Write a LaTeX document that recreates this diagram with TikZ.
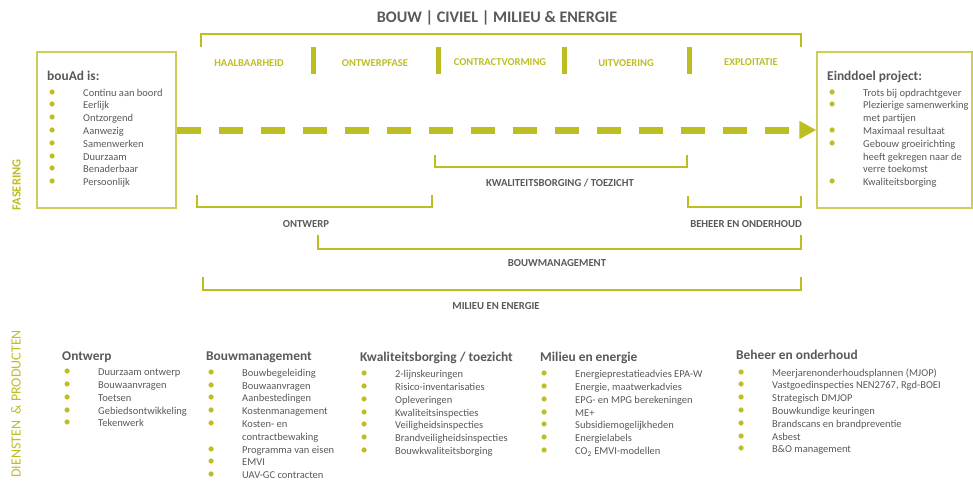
\documentclass[tikz,border=0pt]{standalone}
\usepackage{fontspec}
\setmainfont{Carlito}
\usetikzlibrary{arrows.meta,positioning}
\definecolor{bouGreen}{RGB}{189,190,34}
\definecolor{bouGrey}{RGB}{89,89,89}
\newcommand{\itm}[1]{\makebox[34.5pt][l]{\textcolor{bouGreen}{\Large\textbullet}}#1}
\newcommand{\nxt}[1]{\hspace*{34.5pt}#1}

\begin{document}
\begin{tikzpicture}[x=1pt,y=-1pt]
\tikzstyle{bracket} = [draw=bouGreen, line width=2pt]
\tikzstyle{phasebar} = [draw=bouGreen, line width=5pt]
\tikzstyle{phase} = [text=bouGreen, font=\fontsize{10.5}{12}\selectfont\bfseries]
\tikzstyle{tag} = [text=bouGrey, font=\fontsize{10.7}{12}\selectfont\bfseries]
\tikzstyle{box} = [draw=bouGreen!75, line width=1.3pt, minimum height=156pt]
\tikzstyle{head} = [text=bouGrey, font=\fontsize{13.4}{15}\selectfont\bfseries, anchor=base west, inner sep=0pt]
\tikzstyle{items} = [text=bouGrey, font=\fontsize{10.5}{12.8}\selectfont, align=left, anchor=north west, inner sep=0pt]
\tikzstyle{side} = [text=bouGreen, font=\fontsize{12.5}{14}\selectfont\bfseries, rotate=90]
\useasboundingbox (0,0) rectangle (973,480);

% fasering
\node[text=bouGrey, font=\fontsize{16.1}{18}\selectfont\bfseries] (title) at (497,18) {BOUW | CIVIEL | MILIEU \& ENERGIE};
\draw[bracket] (201,47) -- (201,34) -- (801,34) -- (801,47);
\foreach \x in {313,438,564,689}
  \draw[phasebar] (\x,47) -- (\x,74);
\node[phase] (haalb) at (249,63) {HAALBAARHEID};
\node[phase] (ontwf) at (375,63) {ONTWERPFASE};
\node[phase] (contr) at (500,62) {CONTRACTVORMING};
\node[phase] (uitv) at (626,63) {UITVOERING};
\node[phase] (expl) at (751,62) {EXPLOITATIE};

\node[box, minimum width=139pt] (bouad) at (106.5,130) {};
\node[box, minimum width=155pt] (einddoel) at (894.5,130) {};
\node[head] (bouadhead) at (47,80) {bouAd is:};
\node[items] (bouaditems) at (48.5,88.7) {\itm{Continu aan boord}\\ \itm{Eerlijk}\\ \itm{Ontzorgend}\\
  \itm{Aanwezig}\\ \itm{Samenwerken}\\ \itm{Duurzaam}\\ \itm{Benaderbaar}\\ \itm{Persoonlijk}};
\node[head] (einddoelhead) at (827,80) {Einddoel project:};
\node[items] (einddoelitems) at (828.5,88.7) {\itm{Trots bij opdrachtgever}\\ \itm{Plezierige samenwerking}\\
  \nxt{met partijen}\\ \itm{Maximaal resultaat}\\ \itm{Gebouw groeirichting}\\ \nxt{heeft gekregen naar de}\\
  \nxt{verre toekomst}\\ \itm{Kwaliteitsborging}};
\draw[bouGreen, line width=7pt, dash pattern=on 24pt off 18pt,
  -{Triangle[length=17pt,width=17pt]}] (bouad.east) -- (einddoel.west);

\draw[bracket] (435,155) -- (435,167) -- (687,167) -- (687,155);
\node[tag] (kwal) at (560,183) {KWALITEITSBORGING / TOEZICHT};
\draw[bracket] (197,195) -- (197,207) -- (432,207) -- (432,195);
\node[tag] (ontw) at (306,224) {ONTWERP};
\draw[bracket] (688,196) -- (688,207) -- (801,207) -- (801,196);
\node[tag] (beheer) at (746,224) {BEHEER EN ONDERHOUD};
\draw[bracket] (318,235) -- (318,249) -- (801,249) -- (801,235);
\node[tag] (bouwm) at (557,263) {BOUWMANAGEMENT};
\draw[bracket] (203,277) -- (203,290) -- (801,290) -- (801,277);
\node[tag] (milieu) at (496,306) {MILIEU EN ENERGIE};
\node[side] (fasering) at (16.5,185) {FASERING};

% diensten en producten
\node[side, font=\fontsize{14}{16}\selectfont] (diensten) at (16,404) {DIENSTEN\ \ \& PRODUCTEN};
\node[head] (ontwhead) at (62,360) {Ontwerp};
\node[items] (ontwitems) at (63.5,368.7) {\itm{Duurzaam ontwerp}\\ \itm{Bouwaanvragen}\\ \itm{Toetsen}\\
  \itm{Gebiedsontwikkeling}\\ \itm{Tekenwerk}};
\node[head] (bouwhead) at (206,360) {Bouwmanagement};
\node[items] (bouwitems) at (207.5,368.7) {\itm{Bouwbegeleiding}\\ \itm{Bouwaanvragen}\\ \itm{Aanbestedingen}\\
  \itm{Kostenmanagement}\\ \itm{Kosten- en}\\ \nxt{contractbewaking}\\ \itm{Programma van eisen}\\
  \itm{EMVI}\\ \itm{UAV-GC contracten}};
\node[head] (kwalhead) at (360,361.5) {Kwaliteitsborging / toezicht};
\node[items] (kwalitems) at (360.5,370.2) {\itm{2-lijnskeuringen}\\ \itm{Risico-inventarisaties}\\
  \itm{Opleveringen}\\ \itm{Kwaliteitsinspecties}\\ \itm{Veiligheidsinspecties}\\
  \itm{Brandveiligheidsinspecties}\\ \itm{Bouwkwaliteitsborging}};
\node[head] (milieuhead) at (540,361.5) {Milieu en energie};
\node[items] (milieuitems) at (540.5,370.2) {\itm{Energieprestatieadvies EPA-W}\\
  \itm{Energie, maatwerkadvies}\\ \itm{EPG- en MPG berekeningen}\\ \itm{ME+}\\
  \itm{Subsidiemogelijkheden}\\ \itm{Energielabels}\\ \itm{CO\textsubscript{2} EMVI-modellen}};
\node[head] (beheerhead) at (736,359.5) {Beheer en onderhoud};
\node[items] (beheeritems) at (737.5,368.2) {\itm{Meerjarenonderhoudsplannen (MJOP)}\\
  \itm{Vastgoedinspecties NEN2767, Rgd-BOEI}\\ \itm{Strategisch DMJOP}\\ \itm{Bouwkundige keuringen}\\
  \itm{Brandscans en brandpreventie}\\ \itm{Asbest}\\ \itm{B\&O management}};
\end{tikzpicture}
\end{document}
